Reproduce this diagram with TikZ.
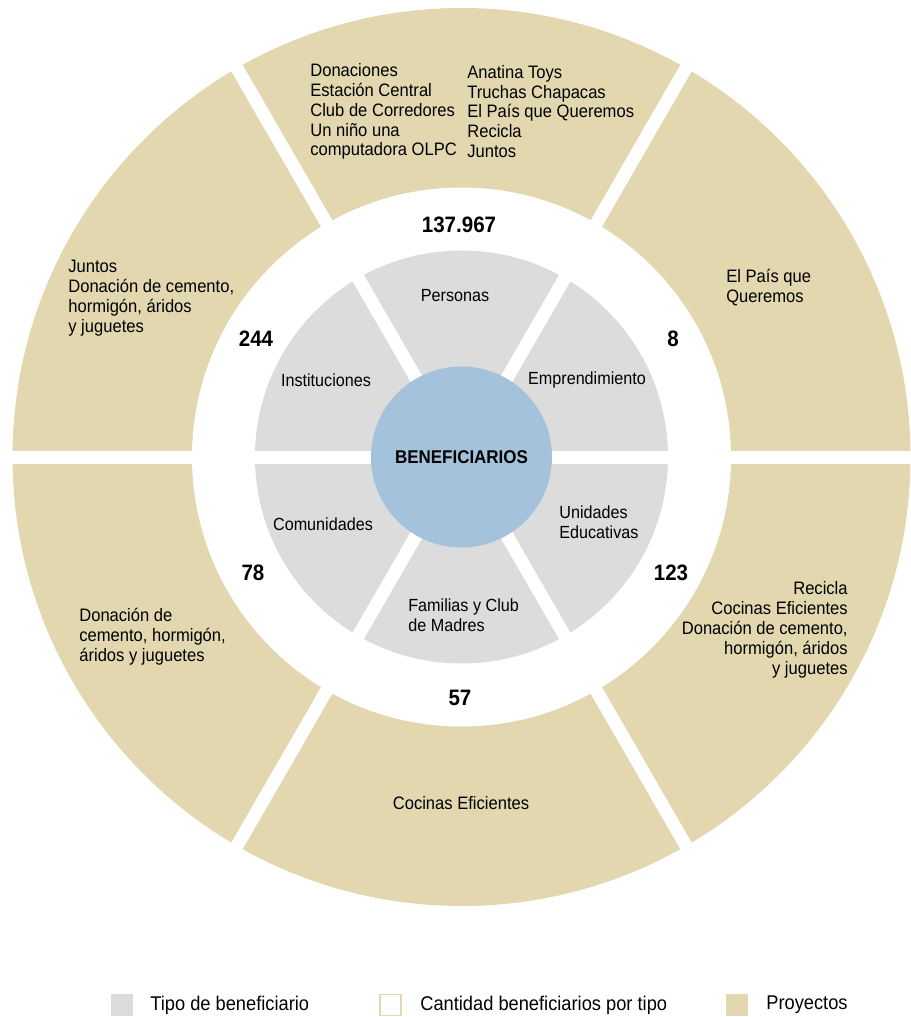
\documentclass[tikz,border=0pt]{standalone}
\usepackage{fontspec}
\setmainfont{Liberation Sans}[FakeStretch=0.92]
\usepackage{tikz}
\definecolor{sabbia}{HTML}{E2D7AF}
\definecolor{grigio}{HTML}{DBDCDB}
\definecolor{azzurro}{HTML}{A4C2DC}
\tikzset{
  % Stile per i testi dei progetti (anello esterno)
  progetto/.style={font=\fontsize{10.25}{11.3}\selectfont, inner sep=0pt, align=left},
  % Stile per i tipi di beneficiario (anello grigio)
  tipo/.style={font=\fontsize{10}{11.3}\selectfont, inner sep=0pt, align=left},
  % Stile per le quantita'
  quantita/.style={font=\fontsize{12.7}{14}\selectfont\bfseries, inner sep=0pt},
  % Stile per il cerchio centrale
  centro/.style={circle, fill=azzurro, minimum size=3.62cm, inner sep=0pt,
    font=\fontsize{10.5}{13}\selectfont\bfseries},
  % Taglio bianco tra i settori
  taglio/.style={white, line width=0.26cm},
  % Quadratini della legenda
  legenda/.style={minimum size=0.44cm, inner sep=0pt},
  voce/.style={font=\fontsize{11.3}{12}\selectfont, inner sep=0pt, anchor=west}
}

\begin{document}
\begin{tikzpicture}
    \useasboundingbox (-9.23,-11.2) rectangle (8.99,9.14);

    % anelli
    \fill[sabbia] (0,0) circle (8.98cm);
    \fill[white] (0,0) circle (5.39cm);
    \fill[grigio] (0,0) circle (4.13cm);
    \foreach \a in {0,60,120}
      \draw[taglio] (\a:9.2cm) -- (\a+180:9.2cm);

    % cerchio centrale
    \node[centro] (benef) at (0,0) {BENEFICIARIOS};

    % tipi di beneficiario
    \node[tipo] (personas) at (-0.13,3.22) {Personas};
    \node[tipo] (instit) at (-2.71,1.54) {Instituciones};
    \node[tipo] (empren) at (2.51,1.54) {Emprendimiento};
    \node[tipo] (comun) at (-2.77,-1.34) {Comunidades};
    \node[tipo, anchor=west] (unidades) at (1.95,-1.30) {Unidades\\Educativas};
    \node[tipo, anchor=west] (familias) at (-1.07,-3.16) {Familias y Club\\de Madres};

    % quantita'
    \node[quantita] (nPers) at (-0.05,4.64) {137.967};
    \node[quantita] (nInst) at (-4.11,2.36) {244};
    \node[quantita] (nEmpr) at (4.23,2.36) {8};
    \node[quantita] (nComu) at (-4.17,-2.32) {78};
    \node[quantita] (nUnid) at (4.19,-2.32) {123};
    \node[quantita] (nFami) at (-0.03,-4.82) {57};

    % progetti
    \node[progetto, anchor=west] (progA) at (-3.03,6.91)
      {Donaciones\\Estación Central\\Club de Corredores\\Un niño una\\computadora OLPC};
    \node[progetto, anchor=west] (progB) at (0.11,6.91)
      {Anatina Toys\\Truchas Chapacas\\El País que Queremos\\Recicla\\Juntos};
    \node[progetto, anchor=west] (progC) at (5.29,3.39) {El País que\\Queremos};
    \node[progetto, anchor=west] (progD) at (-7.87,3.18)
      {Juntos\\Donación de cemento,\\hormigón, áridos\\y juguetes};
    \node[progetto, anchor=west] (progE) at (-7.65,-3.60)
      {Donación de\\cemento, hormigón,\\áridos y juguetes};
    \node[progetto, anchor=east, align=right] (progF) at (7.73,-3.46)
      {Recicla\\Cocinas Eficientes\\Donación de cemento,\\hormigón, áridos\\y juguetes};
    \node[progetto] (progG) at (-0.01,-6.92) {Cocinas Eficientes};

    % legenda
    \node[legenda, fill=grigio] (legTipo) at (-6.79,-10.96) {};
    \node[voce] (vTipo) at (-6.23,-10.96) {Tipo de beneficiario};
    \node[legenda, fill=white, draw=sabbia, line width=0.8pt, minimum size=0.42cm] (legCant) at (-1.42,-10.96) {};
    \node[voce] (vCant) at (-0.83,-10.96) {Cantidad beneficiarios por tipo};
    \node[legenda, fill=sabbia] (legProg) at (5.51,-10.96) {};
    \node[voce] (vProg) at (6.09,-10.96) {Proyectos};
\end{tikzpicture}
\end{document}
